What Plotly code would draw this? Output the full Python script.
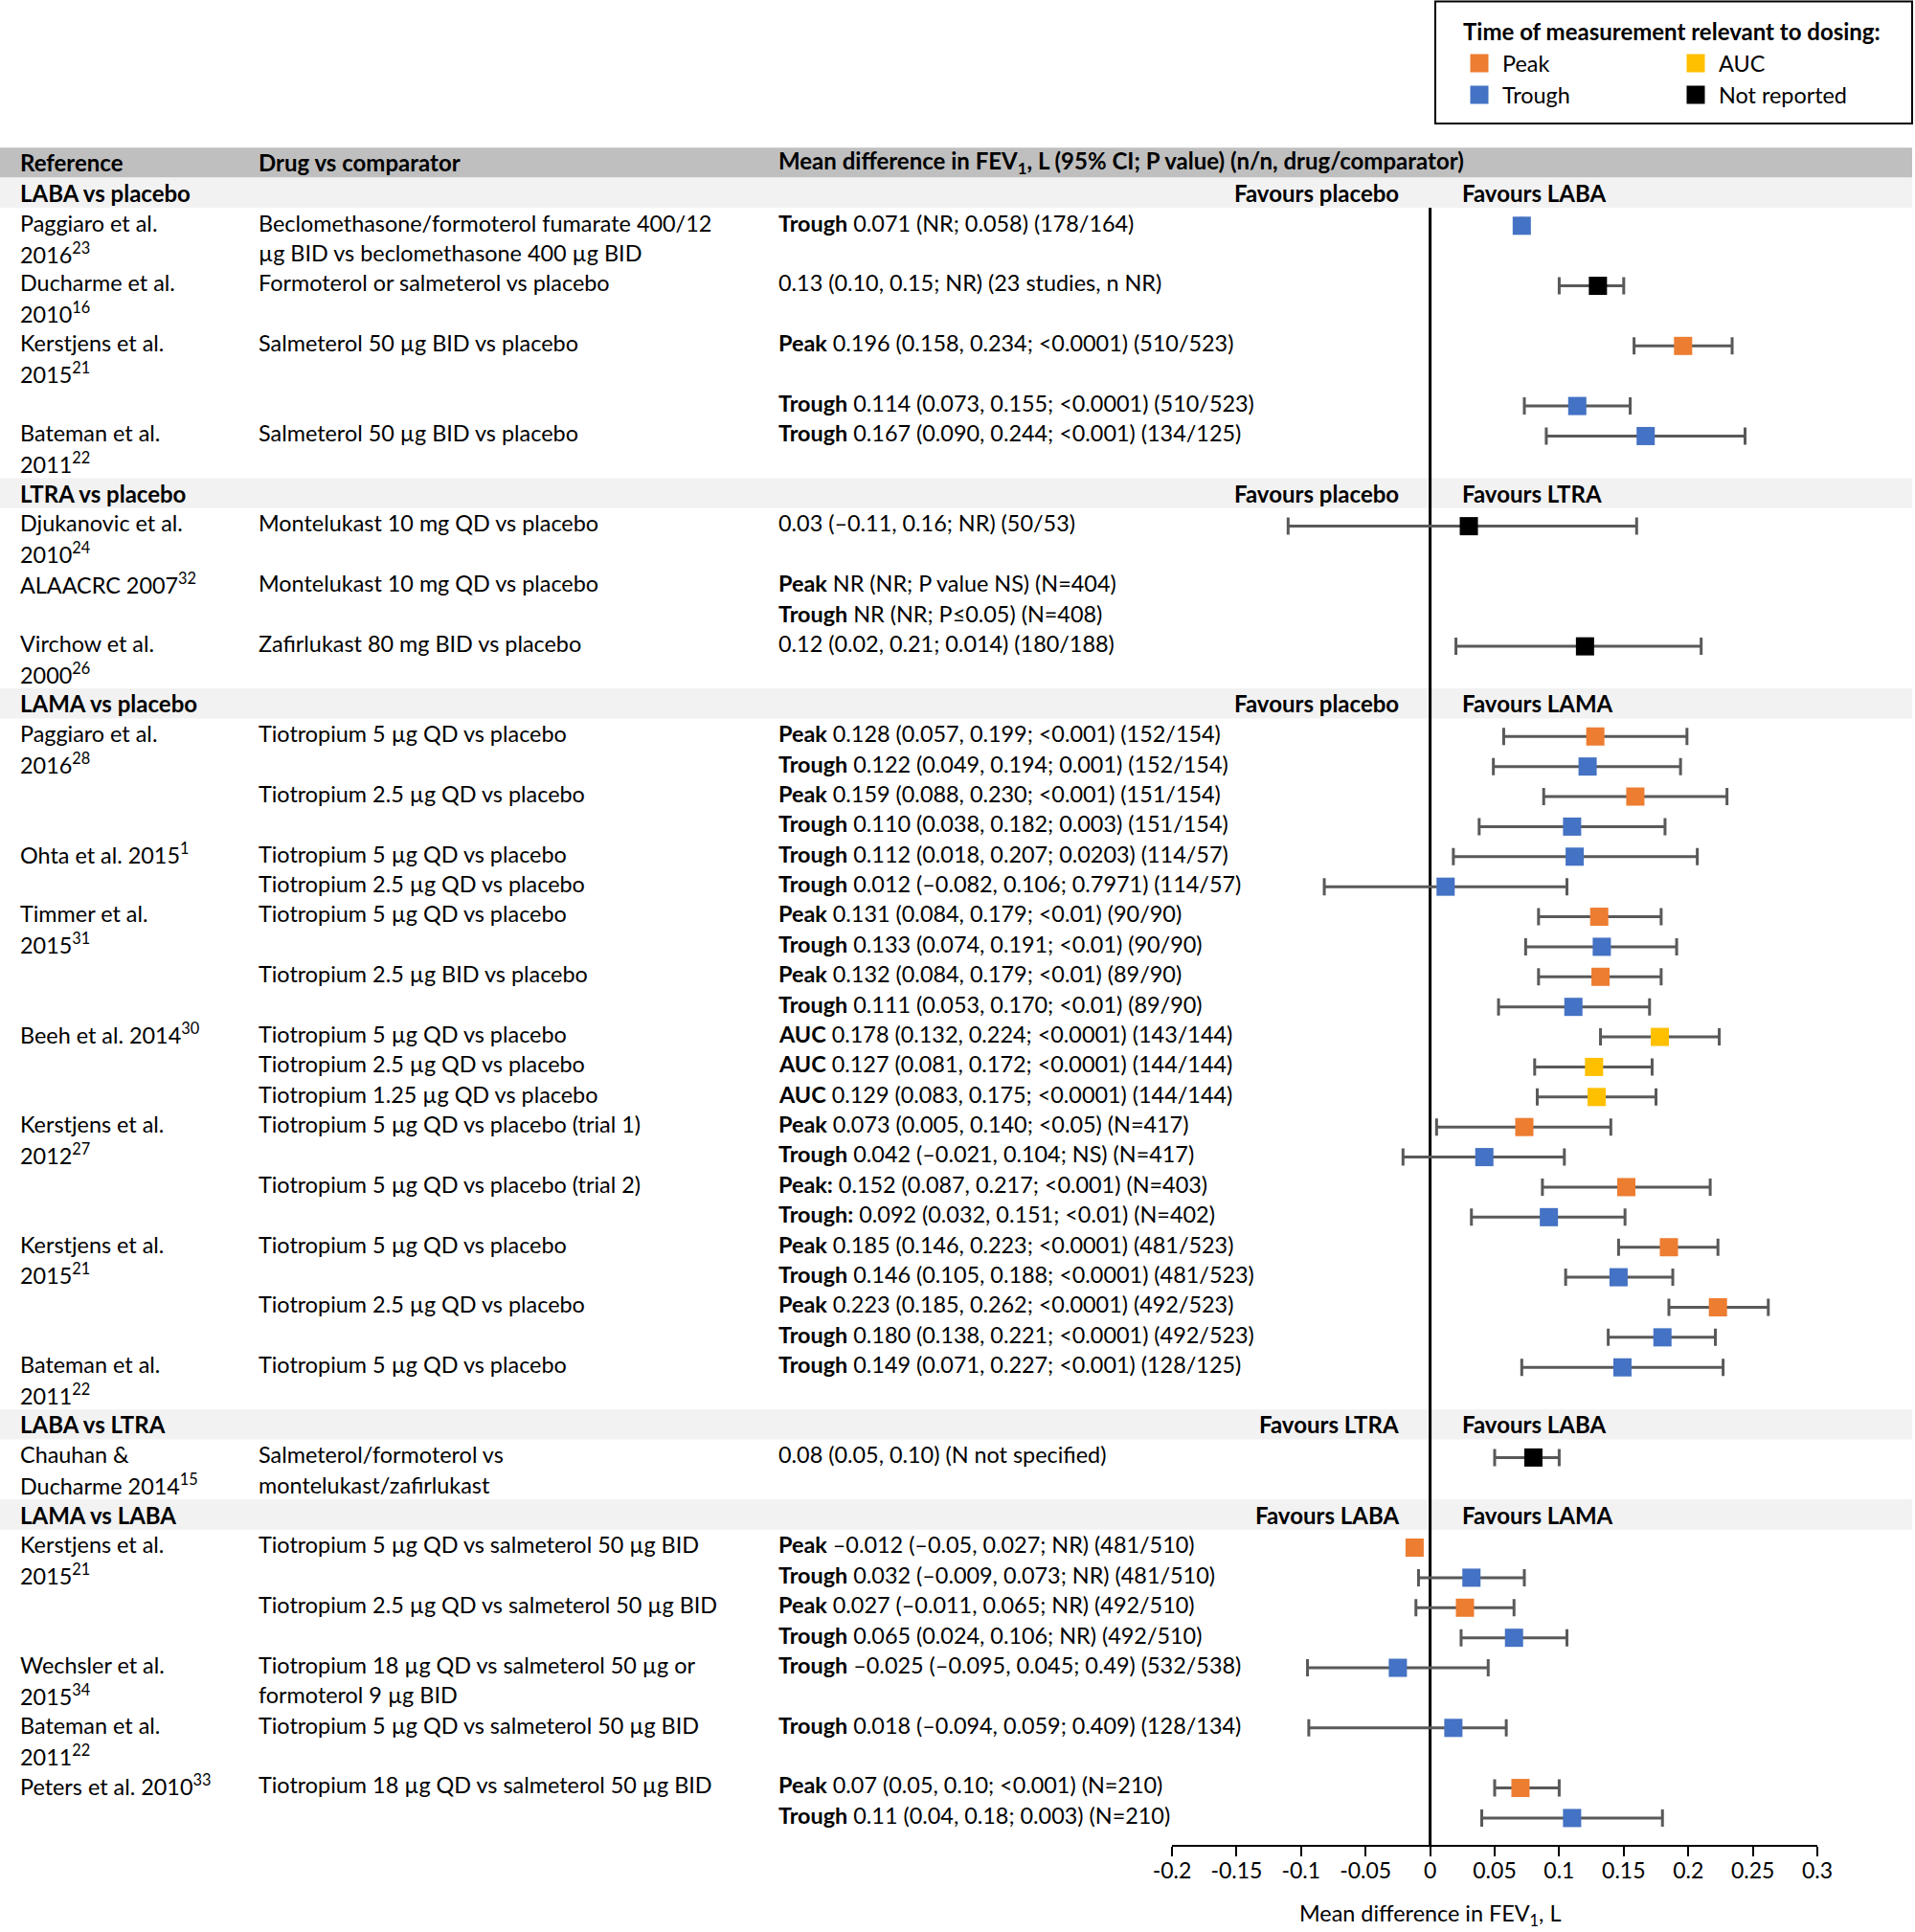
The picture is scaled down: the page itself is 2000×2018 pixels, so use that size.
import plotly.graph_objects as go

W, H = 2000, 2018
FONT = "Lato"
FS = 23.4
FSB = 24

# ---------------- data ----------------
header_cols = ["Reference", "Drug vs comparator",
               "Mean difference in FEV<sub>1</sub>, L (95% CI; P value) (n/n, drug/comparator)"]

group_names = ["LABA vs placebo", "LTRA vs placebo", "LAMA vs placebo", "LABA vs LTRA", "LAMA vs LABA"]
group_left = ["Favours placebo", "Favours placebo", "Favours placebo", "Favours LTRA", "Favours LABA"]
group_right = ["Favours LABA", "Favours LTRA", "Favours LAMA", "Favours LABA", "Favours LAMA"]

# one entry per table line (None = group heading line)
line_ref = [
    None, "Paggiaro et al.", "2016<sup>23</sup>", "Ducharme et al.", "2010<sup>16</sup>",
    "Kerstjens et al.", "2015<sup>21</sup>", "", "Bateman et al.", "2011<sup>22</sup>",
    None, "Djukanovic et al.", "2010<sup>24</sup>", "ALAACRC 2007<sup>32</sup>", "",
    "Virchow et al.", "2000<sup>26</sup>",
    None, "Paggiaro et al.", "2016<sup>28</sup>", "", "", "Ohta et al. 2015<sup>1</sup>", "",
    "Timmer et al.", "2015<sup>31</sup>", "", "", "Beeh et al. 2014<sup>30</sup>", "", "",
    "Kerstjens et al.", "2012<sup>27</sup>", "", "", "Kerstjens et al.", "2015<sup>21</sup>", "", "",
    "Bateman et al.", "2011<sup>22</sup>",
    None, "Chauhan &amp;", "Ducharme 2014<sup>15</sup>",
    None, "Kerstjens et al.", "2015<sup>21</sup>", "", "", "Wechsler et al.", "2015<sup>34</sup>",
    "Bateman et al.", "2011<sup>22</sup>", "Peters et al. 2010<sup>33</sup>", "",
]

line_drug = [
    None, "Beclomethasone/formoterol fumarate 400/12", "µg BID vs beclomethasone 400 µg BID",
    "Formoterol or salmeterol vs placebo", "",
    "Salmeterol 50 µg BID vs placebo", "", "", "Salmeterol 50 µg BID vs placebo", "",
    None, "Montelukast 10 mg QD vs placebo", "", "Montelukast 10 mg QD vs placebo", "",
    "Zafirlukast 80 mg BID vs placebo", "",
    None, "Tiotropium 5 µg QD vs placebo", "", "Tiotropium 2.5 µg QD vs placebo", "",
    "Tiotropium 5 µg QD vs placebo", "Tiotropium 2.5 µg QD vs placebo",
    "Tiotropium 5 µg QD vs placebo", "", "Tiotropium 2.5 µg BID vs placebo", "",
    "Tiotropium 5 µg QD vs placebo", "Tiotropium 2.5 µg QD vs placebo", "Tiotropium 1.25 µg QD vs placebo",
    "Tiotropium 5 µg QD vs placebo (trial 1)", "", "Tiotropium 5 µg QD vs placebo (trial 2)", "",
    "Tiotropium 5 µg QD vs placebo", "", "Tiotropium 2.5 µg QD vs placebo", "",
    "Tiotropium 5 µg QD vs placebo", "",
    None, "Salmeterol/formoterol vs", "montelukast/zafirlukast",
    None, "Tiotropium 5 µg QD vs salmeterol 50 µg BID", "", "Tiotropium 2.5 µg QD vs salmeterol 50 µg BID", "",
    "Tiotropium 18 µg QD vs salmeterol 50 µg or", "formoterol 9 µg BID",
    "Tiotropium 5 µg QD vs salmeterol 50 µg BID", "", "Tiotropium 18 µg QD vs salmeterol 50 µg BID", "",
]

line_result = [
    None,
    "<b>Trough</b> 0.071 (NR; 0.058) (178/164)", "",
    "0.13 (0.10, 0.15; NR) (23 studies, n NR)", "",
    "<b>Peak</b> 0.196 (0.158, 0.234; &lt;0.0001) (510/523)", "",
    "<b>Trough</b> 0.114 (0.073, 0.155; &lt;0.0001) (510/523)",
    "<b>Trough</b> 0.167 (0.090, 0.244; &lt;0.001) (134/125)", "",
    None,
    "0.03 (–0.11, 0.16; NR) (50/53)", "",
    "<b>Peak</b> NR (NR; P value NS) (N=404)",
    "<b>Trough</b> NR (NR; P≤0.05) (N=408)",
    "0.12 (0.02, 0.21; 0.014) (180/188)", "",
    None,
    "<b>Peak</b> 0.128 (0.057, 0.199; &lt;0.001) (152/154)",
    "<b>Trough</b> 0.122 (0.049, 0.194; 0.001) (152/154)",
    "<b>Peak</b> 0.159 (0.088, 0.230; &lt;0.001) (151/154)",
    "<b>Trough</b> 0.110 (0.038, 0.182; 0.003) (151/154)",
    "<b>Trough</b> 0.112 (0.018, 0.207; 0.0203) (114/57)",
    "<b>Trough</b> 0.012 (–0.082, 0.106; 0.7971) (114/57)",
    "<b>Peak</b> 0.131 (0.084, 0.179; &lt;0.01) (90/90)",
    "<b>Trough</b> 0.133 (0.074, 0.191; &lt;0.01) (90/90)",
    "<b>Peak</b> 0.132 (0.084, 0.179; &lt;0.01) (89/90)",
    "<b>Trough</b> 0.111 (0.053, 0.170; &lt;0.01) (89/90)",
    "<b>AUC</b> 0.178 (0.132, 0.224; &lt;0.0001) (143/144)",
    "<b>AUC</b> 0.127 (0.081, 0.172; &lt;0.0001) (144/144)",
    "<b>AUC</b> 0.129 (0.083, 0.175; &lt;0.0001) (144/144)",
    "<b>Peak</b> 0.073 (0.005, 0.140; &lt;0.05) (N=417)",
    "<b>Trough</b> 0.042 (–0.021, 0.104; NS) (N=417)",
    "<b>Peak:</b> 0.152 (0.087, 0.217; &lt;0.001) (N=403)",
    "<b>Trough:</b> 0.092 (0.032, 0.151; &lt;0.01) (N=402)",
    "<b>Peak</b> 0.185 (0.146, 0.223; &lt;0.0001) (481/523)",
    "<b>Trough</b> 0.146 (0.105, 0.188; &lt;0.0001) (481/523)",
    "<b>Peak</b> 0.223 (0.185, 0.262; &lt;0.0001) (492/523)",
    "<b>Trough</b> 0.180 (0.138, 0.221; &lt;0.0001) (492/523)",
    "<b>Trough</b> 0.149 (0.071, 0.227; &lt;0.001) (128/125)", "",
    None,
    "0.08 (0.05, 0.10) (N not specified)", "",
    None,
    "<b>Peak</b> –0.012 (–0.05, 0.027; NR) (481/510)",
    "<b>Trough</b> 0.032 (–0.009, 0.073; NR) (481/510)",
    "<b>Peak</b> 0.027 (–0.011, 0.065; NR) (492/510)",
    "<b>Trough</b> 0.065 (0.024, 0.106; NR) (492/510)",
    "<b>Trough</b> –0.025 (–0.095, 0.045; 0.49) (532/538)", "",
    "<b>Trough</b> 0.018 (–0.094, 0.059; 0.409) (128/134)", "",
    "<b>Peak</b> 0.07 (0.05, 0.10; &lt;0.001) (N=210)",
    "<b>Trough</b> 0.11 (0.04, 0.18; 0.003) (N=210)",
]

N_ = None
line_measure = [
    N_, "Trough", N_, "Not reported", N_, "Peak", N_, "Trough", "Trough", N_,
    N_, "Not reported", N_, N_, N_, "Not reported", N_,
    N_, "Peak", "Trough", "Peak", "Trough", "Trough", "Trough", "Peak", "Trough", "Peak", "Trough",
    "AUC", "AUC", "AUC", "Peak", "Trough", "Peak", "Trough", "Peak", "Trough", "Peak", "Trough", "Trough", N_,
    N_, "Not reported", N_,
    N_, "Peak", "Trough", "Peak", "Trough", "Trough", N_, "Trough", N_, "Peak", "Trough",
]
line_est = [
    N_, 0.071, N_, 0.13, N_, 0.196, N_, 0.114, 0.167, N_,
    N_, 0.03, N_, N_, N_, 0.12, N_,
    N_, 0.128, 0.122, 0.159, 0.110, 0.112, 0.012, 0.131, 0.133, 0.132, 0.111,
    0.178, 0.127, 0.129, 0.073, 0.042, 0.152, 0.092, 0.185, 0.146, 0.223, 0.180, 0.149, N_,
    N_, 0.08, N_,
    N_, -0.012, 0.032, 0.027, 0.065, -0.025, N_, 0.018, N_, 0.07, 0.11,
]
line_lo = [
    N_, N_, N_, 0.10, N_, 0.158, N_, 0.073, 0.090, N_,
    N_, -0.11, N_, N_, N_, 0.02, N_,
    N_, 0.057, 0.049, 0.088, 0.038, 0.018, -0.082, 0.084, 0.074, 0.084, 0.053,
    0.132, 0.081, 0.083, 0.005, -0.021, 0.087, 0.032, 0.146, 0.105, 0.185, 0.138, 0.071, N_,
    N_, 0.05, N_,
    N_, N_, -0.009, -0.011, 0.024, -0.095, N_, -0.094, N_, 0.05, 0.04,
]
line_hi = [
    N_, N_, N_, 0.15, N_, 0.234, N_, 0.155, 0.244, N_,
    N_, 0.16, N_, N_, N_, 0.21, N_,
    N_, 0.199, 0.194, 0.230, 0.182, 0.207, 0.106, 0.179, 0.191, 0.179, 0.170,
    0.224, 0.172, 0.175, 0.140, 0.104, 0.217, 0.151, 0.223, 0.188, 0.262, 0.221, 0.227, N_,
    N_, 0.10, N_,
    N_, N_, 0.073, 0.065, 0.106, 0.045, N_, 0.059, N_, 0.10, 0.18,
]

measure_names = ["Peak", "AUC", "Trough", "Not reported"]
measure_colors = {"Peak": "#ED7D31", "AUC": "#FFC000", "Trough": "#4472C4", "Not reported": "#000000"}

tick_vals = [-0.2, -0.15, -0.1, -0.05, 0, 0.05, 0.1, 0.15, 0.2, 0.25, 0.3]
tick_text = ["-0.2", "-0.15", "-0.1", "-0.05", "0", "0.05", "0.1", "0.15", "0.2", "0.25", "0.3"]
axis_title = "Mean difference in FEV<sub>1</sub>, L"
legend_title = "Time of measurement relevant to dosing:"

# ---------------- layout geometry (pixels) ----------------
ROW0 = 169.9      # centre of header line
ROWH = 31.38      # line height
AXIS_PX = 1927    # x axis line
X_LEFT_PX, X_RIGHT_PX = 1224, 1898
rtop = -ROW0 / ROWH
rbot = (AXIS_PX - ROW0) / ROWH
py = lambda px: 1 - px / H
COLX = [19 / W, 268 / W, 811 / W]
BAND_R = 1997 / W
BOLD = dict(size=FSB)

fig = go.Figure()

# forest points
n_lines = len(line_ref)
for m in measure_names:
    xs, ys, ep, em = [], [], [], []
    for i in range(n_lines):
        if line_measure[i] == m and line_est[i] is not None:
            xs.append(line_est[i])
            ys.append(i + 1 + 0.1)
            if line_lo[i] is None:
                ep.append(None); em.append(None)
            else:
                ep.append(line_hi[i] - line_est[i]); em.append(line_est[i] - line_lo[i])
    fig.add_trace(go.Scatter(
        x=xs, y=ys, mode="markers", name=m, showlegend=False, cliponaxis=False,
        marker=dict(symbol="square", size=19, color=measure_colors[m], line=dict(width=0)),
        error_x=dict(type="data", array=ep, arrayminus=em, symmetric=False,
                     color="#595959", thickness=3, width=9),
    ))

shapes = []
annotations = []

# zero line (drawn first so bands cover it)
shapes.append(dict(type="line", xref="x", yref="y", x0=0, x1=0, y0=1.5, y1=rbot,
                   line=dict(color="black", width=3), layer="below"))
# header band
shapes.append(dict(type="rect", xref="paper", yref="y", x0=0, x1=BAND_R, y0=-0.5, y1=0.5,
                   fillcolor="#BFBFBF", line=dict(width=0), layer="below"))
for j, t in enumerate(header_cols):
    annotations.append(dict(xref="paper", yref="y", x=COLX[j], y=0, text=f"<b>{t}</b>", font=BOLD,
                            xanchor="left", yanchor="middle", showarrow=False))

g = 0
for i in range(n_lines):
    r = i + 1
    if line_ref[i] is None:
        shapes.append(dict(type="rect", xref="paper", yref="y", x0=0, x1=BAND_R, y0=r - 0.5, y1=r + 0.5,
                           fillcolor="#F2F2F2", line=dict(width=0), layer="below"))
        annotations.append(dict(xref="paper", yref="y", x=COLX[0], y=r, text=f"<b>{group_names[g]}</b>",
                                font=BOLD, xanchor="left", yanchor="middle", showarrow=False))
        annotations.append(dict(xref="x", yref="y", x=0, y=r, xshift=-31, text=f"<b>{group_left[g]}</b>",
                                font=BOLD, xanchor="right", yanchor="middle", showarrow=False))
        annotations.append(dict(xref="x", yref="y", x=0, y=r, xshift=31, text=f"<b>{group_right[g]}</b>",
                                font=BOLD, xanchor="left", yanchor="middle", showarrow=False))
        g += 1
        continue
    for j, col in enumerate([line_ref, line_drug, line_result]):
        if col[i]:
            annotations.append(dict(xref="paper", yref="y", x=COLX[j], y=r, text=col[i],
                                    xanchor="left", yanchor="middle", showarrow=False))

# axis title
annotations.append(dict(xref="x", yref="paper", x=0, y=py(1999), text=axis_title,
                        xanchor="center", yanchor="middle", showarrow=False))

# legend box (manual)
shapes.append(dict(type="rect", xref="paper", yref="paper", x0=1499 / W, x1=1997 / W,
                   y0=py(129), y1=py(1.5), line=dict(color="black", width=2), fillcolor="white"))
annotations.append(dict(xref="paper", yref="paper", x=1526 / W, y=py(32), text=f"<b>{legend_title}</b>",
                        font=BOLD, xanchor="left", yanchor="middle", showarrow=False))
leg_pos = {"Peak": (1545, 66), "AUC": (1771, 66), "Trough": (1545, 99), "Not reported": (1771, 99)}
for m in measure_names:
    cx, cy = leg_pos[m]
    shapes.append(dict(type="rect", xref="paper", yref="paper",
                       x0=(cx - 9.5) / W, x1=(cx + 9.5) / W, y0=py(cy + 9.5), y1=py(cy - 9.5),
                       fillcolor=measure_colors[m], line=dict(width=0)))
    annotations.append(dict(xref="paper", yref="paper", x=(cx + 22) / W, y=py(cy), text=m,
                            xanchor="left", yanchor="middle", showarrow=False))

fig.update_layout(
    template="none",
    width=W, height=H, autosize=False,
    margin=dict(l=0, r=0, t=0, b=0, pad=0, autoexpand=False),
    paper_bgcolor="white", plot_bgcolor="rgba(0,0,0,0)",
    font=dict(family=FONT, size=FS, color="black"),
    shapes=shapes, annotations=annotations, showlegend=False, hovermode=False,
    xaxis=dict(domain=[X_LEFT_PX / W, X_RIGHT_PX / W], range=[-0.2, 0.3], showgrid=False, zeroline=False,
               showline=True, linecolor="black", linewidth=2, ticks="outside", ticklen=10, tickwidth=2,
               tickcolor="black", tickvals=tick_vals, ticktext=tick_text, tickfont=dict(size=23),
               ticklabelstandoff=-5, automargin=False, fixedrange=True),
    yaxis=dict(domain=[py(AXIS_PX), 1], range=[rbot, rtop], visible=False, automargin=False,
               fixedrange=True),
)

fig.write_html("out.html", config={"displayModeBar": False, "responsive": False},
               post_script="document.body.style.margin='0';")
